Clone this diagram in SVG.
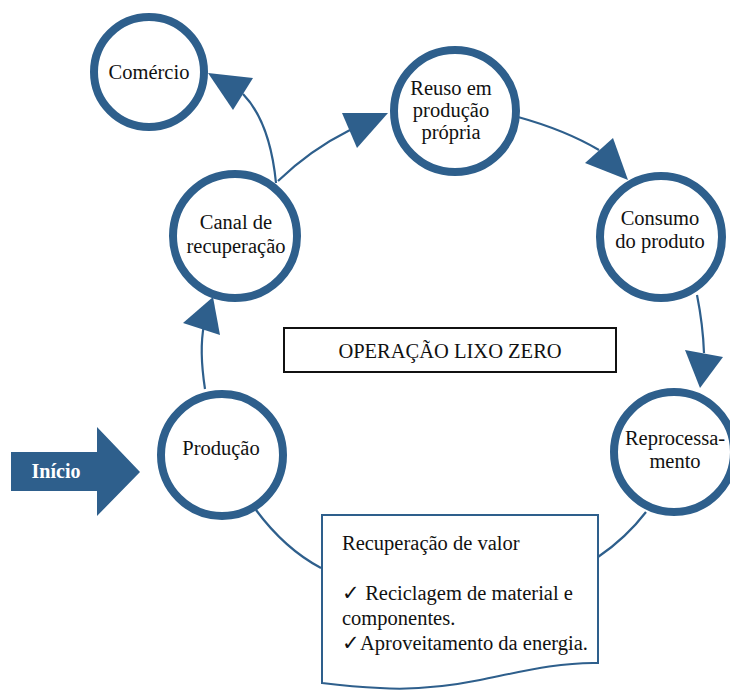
<svg xmlns="http://www.w3.org/2000/svg" width="730" height="691" viewBox="0 0 730 691">
<style>
.node{fill:#fff;stroke:#2e5f8c;stroke-width:8}
.conn{fill:none;stroke:#2e5f8c;stroke-width:2.2}
.head{fill:#2e5f8c;stroke:none}
text{font-family:"Liberation Serif",Tinos,"Times New Roman",Times,"DejaVu Serif","Noto Serif",serif;font-size:20.5px;fill:#111}
.t{text-anchor:middle}
.w{font-size:20px;font-weight:bold;fill:#fff;text-anchor:middle}
</style>
<rect width="730" height="691" fill="#fff"/>
<g id="connectors">
<path class="conn" d="M205,389 Q199,350 204,325"/>
<polygon class="head" points="213,297 220,335 183,323"/>
<path class="conn" d="M276,183 Q270,122 243,94"/>
<polygon class="head" points="208,73 253,78 233,110"/>
<path class="conn" d="M278,181 Q310,150 350,130"/>
<polygon class="head" points="388,113 342,113 357,148"/>
<path class="conn" d="M518,117 Q565,130 599,150"/>
<polygon class="head" points="628,180 585,163 613,138"/>
<path class="conn" d="M697,295 Q703,325 704,353"/>
<polygon class="head" points="700,388 685,350 723,357"/>
<path class="conn" d="M256,510 Q285,549 321,568"/>
<path class="conn" d="M646,512 Q626,538 598,557"/>
</g>
<g id="comercio"><circle class="node" cx="149" cy="72" r="55"/><text class="t" x="149" y="79">Comércio</text></g>
<g id="canal"><circle class="node" cx="235" cy="236" r="62"/><text class="t" x="236" y="229">Canal de</text><text class="t" x="236" y="253">recuperação</text></g>
<g id="reuso"><circle class="node" cx="455" cy="111" r="61"/><text class="t" x="451" y="95">Reuso em</text><text class="t" x="451" y="117">produção</text><text class="t" x="451" y="139">própria</text></g>
<g id="consumo"><circle class="node" cx="661" cy="237" r="61"/><text class="t" x="660" y="225">Consumo</text><text class="t" x="660" y="248">do produto</text></g>
<g id="reprocessamento"><circle class="node" cx="674" cy="452" r="60"/><text class="t" x="675" y="445">Reprocessa-</text><text class="t" x="675" y="468">mento</text></g>
<g id="producao"><circle class="node" cx="222" cy="455" r="61"/><text class="t" x="221" y="455">Produção</text></g>
<g id="inicio"><polygon fill="#2e5f8c" points="11,452 97,452 97,427 140,472 97,516 97,491 11,491"/><text class="w" x="56" y="478">Início</text></g>
<g id="operacao"><rect x="284" y="328" width="332" height="44" fill="#fff" stroke="#111" stroke-width="2"/><text class="t" x="450" y="358">OPERAÇÃO LIXO ZERO</text></g>
<g id="recuperacao">
<path d="M322,515 H598 V663 C560,662 520,672 480,680 C440,688 410,690 380,688 C355,687 338,685 322,683 Z" fill="#fff" stroke="#2e5f8c" stroke-width="2"/>
<text x="342" y="550">Recuperação de valor</text>
<text x="342" y="600">✓ Reciclagem de material e</text>
<text x="342" y="625">componentes.</text>
<text x="342" y="650">✓Aproveitamento da energia.</text>
</g>
</svg>
